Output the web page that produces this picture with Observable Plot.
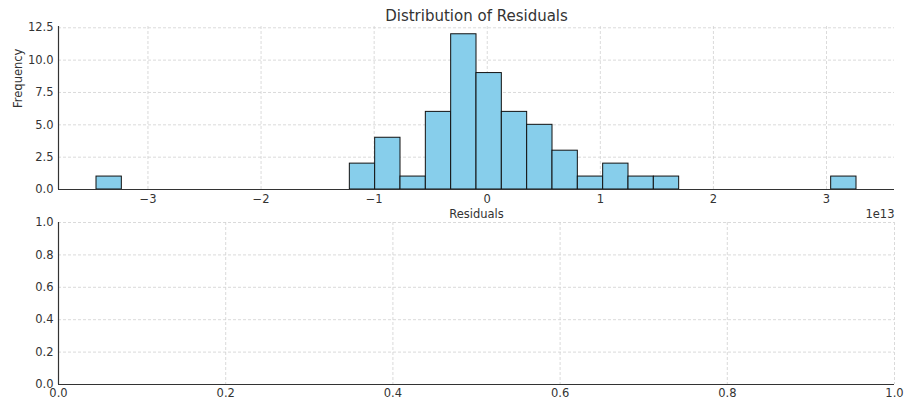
<!DOCTYPE html>
<html>
<head>
<meta charset="utf-8">
<script src="https://cdn.jsdelivr.net/npm/d3@7"></script>
<script src="https://cdn.jsdelivr.net/npm/@observablehq/plot@0.6"></script>
<style>
  body { margin: 0; background: #fff; font-family: "DejaVu Sans", sans-serif; }
  #wrap { width: 904px; height: 403px; position: relative; overflow: hidden; }
  #wrap svg { display: block; overflow: visible; }
  #lower { margin-top: -8px; }
</style>
</head>
<body>
<div id="wrap"><div id="upper"></div><div id="lower"></div></div>
<script>
// Histogram of residuals (30 bins)
const binCounts = [1,0,0,0,0,0,0,0,0,0,2,4,1,6,12,9,6,5,3,1,2,1,1,0,0,0,0,0,0,1];
const binMin = -3.455e13;
const binMax = 3.265e13;
const xTicksTop = [-3e13, -2e13, -1e13, 0, 1e13, 2e13, 3e13];
const yTicksTop = [0, 2.5, 5, 7.5, 10, 12.5];
const ticksBottom = [0, 0.2, 0.4, 0.6, 0.8, 1.0];
const titleText = "Distribution of Residuals";
const xLabel = "Residuals";
const yLabel = "Frequency";
const offsetText = "1e13";

const nb = binCounts.length;
const bw = (binMax - binMin) / nb;
const bins = binCounts.map((c, i) => ({x1: binMin + i * bw, x2: binMin + (i + 1) * bw, y: c}));
const pad = (binMax - binMin) * 0.05;
const xDomain = [binMin - pad, binMax + pad];
const yMax = d3.max(binCounts) * 1.05;

const fmtX = d => d3.format("d")(Math.round(d / 1e13));
const gridStyle = {stroke: "#d0d0d0", strokeOpacity: 1, strokeDasharray: "3,2", strokeWidth: 0.8};
const font = {fontFamily: "DejaVu Sans, sans-serif", fontSize: "11.5px", color: "#333", background: "white", overflow: "visible"};

const chartTop = Plot.plot({
  width: 904, height: 222,
  marginLeft: 58, marginRight: 10, marginTop: 26, marginBottom: 33,
  style: font,
  x: {domain: xDomain, label: null},
  y: {domain: [0, yMax], label: null},
  marks: [
    Plot.gridX(xTicksTop, gridStyle),
    Plot.gridY(yTicksTop, gridStyle),
    Plot.rectY(bins, {x1: "x1", x2: "x2", y: "y", fill: "#87ceeb", stroke: "#111", strokeWidth: 1, insetLeft: 0, insetRight: 0}),
    Plot.ruleY([0], {stroke: "#333", strokeWidth: 1.2}),
    Plot.ruleX([xDomain[0]], {stroke: "#333", strokeWidth: 1.2}),
    Plot.axisX({ticks: xTicksTop, tickFormat: fmtX, tickSize: 0, tickPadding: 5, label: null}),
    Plot.axisY({ticks: yTicksTop, tickFormat: d3.format(".1f"), tickSize: 0, tickPadding: 5, label: null}),
    Plot.text([titleText], {frameAnchor: "top", dy: -10, fontSize: 15, fill: "#333", lineAnchor: "middle"}),
    Plot.text([xLabel], {frameAnchor: "bottom", dy: 25, fontSize: 11.5, fill: "#333", lineAnchor: "middle"}),
    Plot.text([offsetText], {frameAnchor: "bottom-right", dy: 25, fontSize: 11.5, fill: "#333", textAnchor: "end", lineAnchor: "middle"}),
    Plot.text([yLabel], {frameAnchor: "left", dx: -40, rotate: -90, fontSize: 11.5, fill: "#333", lineAnchor: "middle"})
  ]
});

const chartBottom = Plot.plot({
  width: 904, height: 189,
  marginLeft: 58, marginRight: 10, marginTop: 8, marginBottom: 19,
  style: font,
  x: {domain: [0, 1], label: null},
  y: {domain: [0, 1], label: null},
  marks: [
    Plot.gridX(ticksBottom, gridStyle),
    Plot.gridY(ticksBottom, gridStyle),
    Plot.ruleY([0], {stroke: "#333", strokeWidth: 1.2}),
    Plot.ruleX([0], {stroke: "#333", strokeWidth: 1.2}),
    Plot.axisX({ticks: ticksBottom, tickFormat: d3.format(".1f"), tickSize: 0, tickPadding: 4, label: null}),
    Plot.axisY({ticks: ticksBottom, tickFormat: d3.format(".1f"), tickSize: 0, tickPadding: 5, label: null})
  ]
});

document.getElementById("upper").appendChild(chartTop);
document.getElementById("lower").appendChild(chartBottom);
</script>
</body>
</html>
